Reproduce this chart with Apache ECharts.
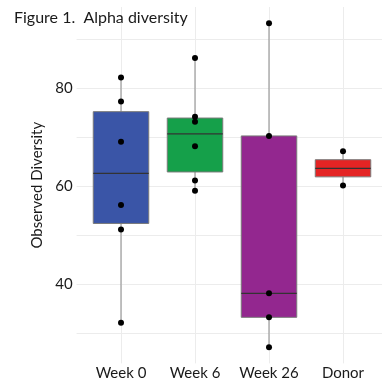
<!DOCTYPE html>
<html><head><meta charset="utf-8">
<script src="https://cdn.jsdelivr.net/npm/echarts@6/dist/echarts.min.js"></script>
<style>html,body{margin:0;padding:0;background:#fff}#c{width:382px;height:381px}</style>
</head><body><div id="c"></div>
<script>
const categories = ['Week 0', 'Week 6', 'Week 26', 'Donor'];
const week0 = [82.1, 77.2, 69.0, 56.1, 51.1, 32.1];
const week6 = [86.1, 74.1, 73.1, 68.1, 61.1, 59.0];
const week26 = [93.2, 70.2, 38.1, 33.2, 27.1];
const donor = [67.1, 60.1];
const yTicks = [40, 60, 80];
const yGrid = [30, 40, 50, 60, 70, 80, 90];
const groups = [week0, week6, week26, donor];
const fills = ['#3A55A7', '#15A04A', '#93278F', '#E42424'];

function quantile(sorted, p) {
  const h = (sorted.length - 1) * p;
  const lo = Math.floor(h), hi = Math.ceil(h);
  return sorted[lo] + (h - lo) * (sorted[hi] - sorted[lo]);
}
const boxData = groups.map((g, i) => {
  const s = g.slice().sort((a, b) => a - b);
  return [i + 1, s[0], quantile(s, 0.25), quantile(s, 0.5), quantile(s, 0.75), s[s.length - 1]];
});
const pointData = [];
groups.forEach((g, i) => g.forEach(v => pointData.push([i + 1, v])));

const font = 'Lato';
const chart = echarts.init(document.getElementById('c'));
chart.setOption({
  animation: false,
  title: { text: 'Figure 1.  Alpha diversity', left: 9, top: 5,
    textStyle: { fontFamily: font, fontSize: 16, fontWeight: 'normal', color: '#1a1a1a' } },
  grid: { left: 76.6, right: 0, top: 7, bottom: 17.6 },
  xAxis: {
    type: 'value', min: 0.4, max: 4.527,
    axisLine: { show: false }, axisTick: { show: false }, splitLine: { show: false },
    axisLabel: { customValues: [1, 2, 3, 4], formatter: v => categories[Math.round(v) - 1],
      fontFamily: font, fontSize: 15, color: '#1a1a1a', margin: 2 }
  },
  yAxis: {
    type: 'value', min: 23.8, max: 96.5,
    name: 'Observed Diversity', nameLocation: 'middle', nameGap: 32,
    nameTextStyle: { fontFamily: font, fontSize: 15, color: '#1a1a1a' },
    axisLine: { show: false }, axisTick: { show: false }, splitLine: { show: false },
    axisLabel: { customValues: yTicks, fontFamily: font, fontSize: 15, color: '#1a1a1a', margin: 4 }
  },
  series: [
    {
      type: 'line', data: [], silent: true, z: 0,
      markLine: {
        z: 0, silent: true, symbol: 'none', label: { show: false },
        lineStyle: { color: '#ececec', width: 1, type: 'solid' },
        emphasis: { disabled: true },
        data: yGrid.map(v => ({ yAxis: v })).concat([1, 2, 3, 4].map(v => ({ xAxis: v })))
      }
    },
    {
      type: 'custom', z: 6,
      data: boxData,
      renderItem: function (params, api) {
        const x = api.value(0);
        const i = params.dataIndex;
        const half = api.size([0.75, 0])[0] / 2;
        const pMin = api.coord([x, api.value(1)]);
        const pQ1 = api.coord([x, api.value(2)]);
        const pMed = api.coord([x, api.value(3)]);
        const pQ3 = api.coord([x, api.value(4)]);
        const pMax = api.coord([x, api.value(5)]);
        return {
          type: 'group',
          children: [
            { type: 'line', shape: { x1: pMax[0], y1: pMax[1], x2: pQ3[0], y2: pQ3[1] },
              style: { stroke: '#9a9a9a', lineWidth: 1.2 } },
            { type: 'line', shape: { x1: pQ1[0], y1: pQ1[1], x2: pMin[0], y2: pMin[1] },
              style: { stroke: '#9a9a9a', lineWidth: 1.2 } },
            { type: 'rect', shape: { x: pQ3[0] - half, y: pQ3[1], width: half * 2, height: pQ1[1] - pQ3[1] },
              style: { fill: fills[i], stroke: '#7a7a7a', lineWidth: 1 } },
            { type: 'line', shape: { x1: pMed[0] - half, y1: pMed[1], x2: pMed[0] + half, y2: pMed[1] },
              style: { stroke: '#333333', lineWidth: 1.2 } }
          ]
        };
      }
    },
    {
      type: 'scatter', z: 7, data: pointData, symbolSize: 6,
      itemStyle: { color: '#000000', opacity: 1 }
    }
  ]
});
</script></body></html>
